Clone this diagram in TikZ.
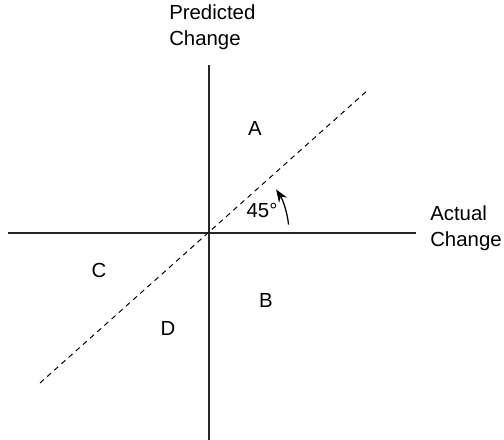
\documentclass[tikz,border=0pt]{standalone}
\usepackage{fontspec}
\setmainfont{Liberation Sans}
\usetikzlibrary{arrows.meta}

\begin{document}
\begin{tikzpicture}[
  x=0.25mm, y=0.25mm,
  axis/.style={line width=0.9pt, color=black!85},
  diag/.style={dashed, line width=0.7pt, dash pattern=on 1.3mm off 1.1mm},
  lbl/.style={font=\fontsize{14.5}{18.5}\selectfont, inner sep=0pt},
  ttl/.style={lbl, align=left, anchor=west},
  angarrow/.style={-{Stealth[length=3.2mm, width=2.4mm]}, line width=0.9pt}
]
  \useasboundingbox (-209,-207) rectangle (295,233);

  % axes
  \coordinate (o) at (0,0);
  \coordinate (ytop) at (0,168);
  \coordinate (ybot) at (0,-207);
  \coordinate (xl) at (-201,0);
  \coordinate (xr) at (207,0);
  \draw[axis] (ytop) -- (ybot);
  \draw[axis] (xl) -- (xr);

  % 45 degree line
  \coordinate (dl) at (-169,-150);
  \coordinate (dr) at (159,143);
  \draw[diag] (dl) -- (dr);

  \node[ttl] (pred) at (-40,206) {Predicted\\Change};
  \node[ttl] (act) at (221,5) {Actual\\Change};

  \node[lbl] (qa) at (46,105) {A};
  \node[lbl] (qb) at (57,-67) {B};
  \node[lbl] (qc) at (-110,-37) {C};
  \node[lbl] (qd) at (-41,-95) {D};

  \node[lbl] (ang) at (53,23) {45\textdegree};
  \draw[angarrow] (o) ++(6:80) arc[start angle=6, end angle=33, radius=80];
\end{tikzpicture}
\end{document}
